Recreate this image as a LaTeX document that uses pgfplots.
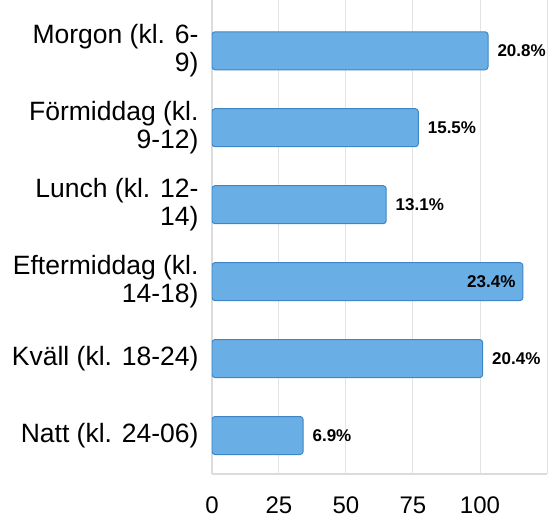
\documentclass[border=0pt]{standalone}
\usepackage{fontspec}
\setmainfont{Liberation Sans}
\usepackage{pgfplots}
\pgfplotsset{compat=1.18}
\definecolor{barfill}{HTML}{69AEE4}
\definecolor{barline}{HTML}{3E86C8}
\definecolor{gridc}{HTML}{DCDCDC}
\begin{document}
\begin{tikzpicture}
\begin{axis}[
 name=ax,
 scale only axis, width=335bp, height=474bp,
 xbar, bar width=38bp,
 xmin=0, xmax=125, ymin=-0.5, ymax=5.66,
 xtick={0,25,50,75,100,125}, xticklabels={0,25,50,75,100,},
 axis x line*=bottom, axis y line*=left,
 axis line style={draw=gridc, line width=1.4bp},
 major tick length=0,
 xmajorgrids, major grid style={draw=gridc!80, line width=1bp},
 ytick={0,...,5},
 yticklabels={Natt (kl. 24-06), Kväll (kl. 18-24), {Eftermiddag (kl.\\14-18)}, {Lunch (kl. 12-\\14)}, {Förmiddag (kl.\\9-12)}, {Morgon (kl. 6-\\9)}},
 yticklabel style={align=right, font=\fontsize{26.5bp}{28bp}\selectfont, xshift=-10bp},
 xticklabel style={font=\fontsize{24bp}{28bp}\selectfont, yshift=-19bp},
 /pgf/number format/assume math mode=true,
 nodes near coords={\pgfplotspointmeta\%},
 point meta=explicit symbolic,
 visualization depends on={value \thisrow{anc}\as\anc},
 visualization depends on={value \thisrow{sh}\as\sh},
 nodes near coords style={anchor=\anc, xshift=\sh bp, font=\fontsize{17bp}{20bp}\selectfont\bfseries, inner sep=0pt, text=black},
]
\addplot[fill=barfill, draw=barline, line width=1bp, rounded corners=3bp] table[x=val, y=pos, meta=lab] {
pos val lab anc sh
5 103 20.8 west 9
4 77 15.5 west 9
3 65 13.1 west 9
2 116 23.4 east -7
1 101 20.4 west 9
0 34 6.9 west 9
};
\end{axis}
\pgfresetboundingbox
\path ([xshift=-212bp,yshift=-43bp]ax.south west) rectangle ([xshift=1bp]ax.north east);
\end{tikzpicture}
\end{document}
